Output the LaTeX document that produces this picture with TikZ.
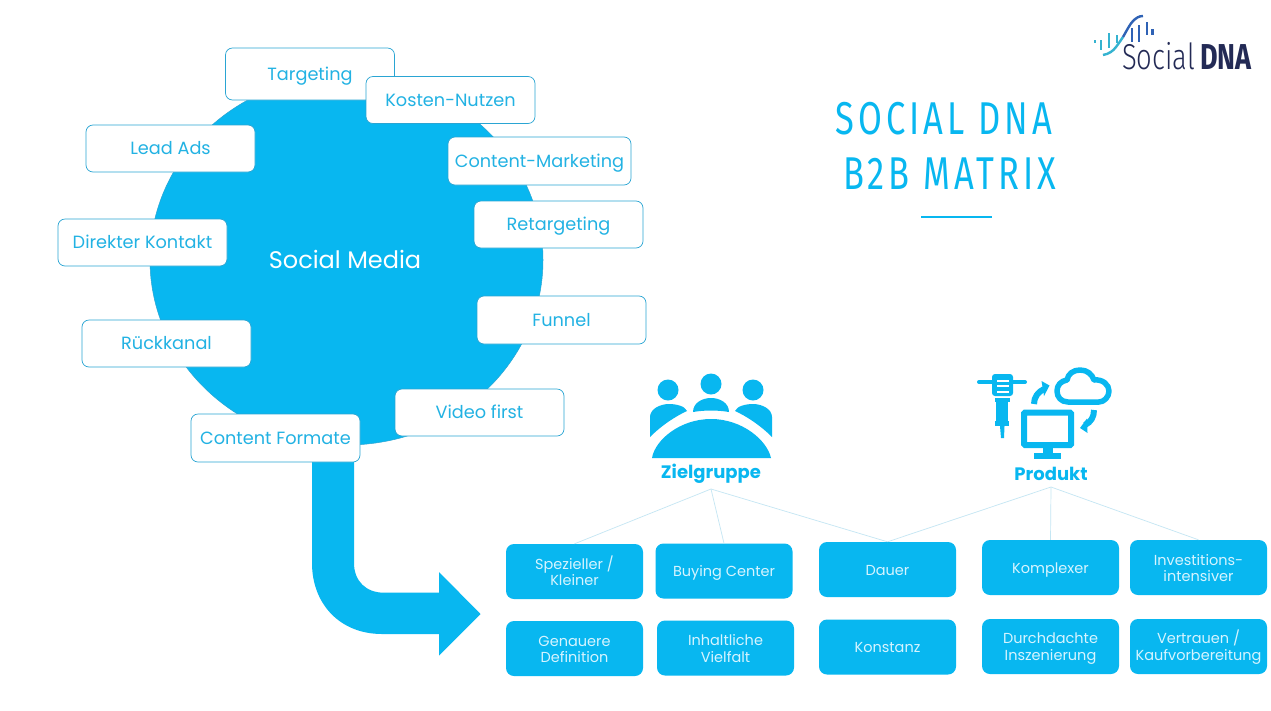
\documentclass[tikz,border=0pt]{standalone}
\usepackage{fontspec}
\usetikzlibrary{shapes.geometric}
\setmainfont{Poppins}
\newfontfamily\titlefont[FakeStretch=0.75,LetterSpace=9]{Fira Sans}
\newfontfamily\logolight[FakeStretch=0.76]{Fira Sans Light}
\newfontfamily\logobold[FakeStretch=0.75]{Fira Sans}
\newcommand\firstline{\vrule width 0pt height 1.05em depth 0pt\relax}
\definecolor{cyanmain}{HTML}{08B7F0}
\definecolor{cyantext}{HTML}{22B2E3}
\definecolor{cyanline}{HTML}{2AA5D3}
\definecolor{cyanlabel}{HTML}{D6F4FF}
\definecolor{connline}{HTML}{C4E6F3}
\definecolor{navy}{HTML}{232A55}
\definecolor{logoblue}{HTML}{2F62B5}
\definecolor{logoteal}{HTML}{35B3D0}
\tikzset{
  whitebox/.style={draw=cyanline,line width=0.7pt,fill=white,rounded corners=7pt,minimum width=169pt,minimum height=47pt,inner sep=0pt,text=cyantext,font=\fontsize{17.7}{20}\selectfont,align=center,text height=12.5pt,text depth=0pt},
  bluebox/.style={fill=cyanmain,rounded corners=8pt,minimum width=137pt,minimum height=55pt,inner sep=0pt,text=cyanlabel,font=\fontsize{14.5}{16.5}\selectfont,align=center,
    execute at end node={\vrule width 0pt height 0pt depth .25em}},
  connector/.style={draw=connline,line width=0.7pt},
  headlabel/.style={text=cyanmain,font=\fontsize{18}{20}\selectfont\bfseries,inner sep=0pt,text height=13pt,text depth=0pt},
  titlelabel/.style={text=cyanmain,font=\fontsize{46}{50}\titlefont,inner sep=0pt,anchor=west,text height=31.7pt,text depth=0pt},
  logolabel/.style={inner sep=0pt,text=navy,text height=24.8pt,text depth=0pt},
  icon/.style={fill=cyanmain,draw=none},
  iconline/.style={draw=cyanmain,line width=5.5pt},
}
\begin{document}
\begin{tikzpicture}[x=1pt,y=-1pt]
\useasboundingbox[fill=white] (0,0) rectangle (1271,710);
% big disc
\node[ellipse,fill=cyanmain,draw=cyanline,line width=0.5pt,minimum width=393pt,minimum height=370pt,inner sep=0pt] (disc) at (346.5,260) {};
\node[text=white,font=\fontsize{24}{28}\selectfont,inner sep=0pt] (sm) at (345,259) {Social Media};
% big arrow
\fill[cyanmain] (312,450) -- (354,450) -- (354,563) .. controls (354,581) and (366,592.7) .. (384,592.7) -- (439,592.7) -- (439,572) -- (480.5,614) -- (439,655.5) -- (439,634) -- (382,634) .. controls (340,634) and (312,604) .. (312,563) -- cycle;
% white boxes
\node[whitebox,minimum height=52pt] (targ) at (310,74) {Targeting};
\node[whitebox] (kost) at (450.5,100) {Kosten-Nutzen};
\node[whitebox] (lead) at (170.5,148.5) {Lead Ads};
\node[whitebox,minimum width=183pt,minimum height=48pt] (cmkt) at (539.5,161) {Content-Marketing};
\node[whitebox] (reta) at (558.5,224.5) {Retargeting};
\node[whitebox] (dire) at (142.5,242.5) {Direkter Kontakt};
\node[whitebox,minimum height=48pt] (funn) at (561.5,320) {Funnel};
\node[whitebox] (ruck) at (166.5,343.5) {Rückkanal};
\node[whitebox] (vide) at (479.5,412.5) {Video first};
\node[whitebox,minimum height=48pt] (cfor) at (275.5,438) {Content Formate};
% blue boxes
\node[bluebox] (spez) at (574.5,571.5) {\firstline Spezieller /\\Kleiner};
\node[bluebox] (buyc) at (724,571) {\firstline Buying Center};
\node[bluebox] (daue) at (887.5,569.5) {\firstline Dauer};
\node[bluebox] (komp) at (1050.5,567.5) {\firstline Komplexer};
\node[bluebox] (inve) at (1198.5,567.5) {\firstline Investitions-\\intensiver};
\node[bluebox] (gena) at (574.5,648.5) {\firstline Genauere\\Definition};
\node[bluebox] (inha) at (725.5,648) {\firstline Inhaltliche\\Vielfalt};
\node[bluebox] (kons) at (887.5,647) {\firstline Konstanz};
\node[bluebox] (durc) at (1050.5,646.5) {\firstline Durchdachte\\Inszenierung};
\node[bluebox] (vert) at (1198.5,646.5) {\firstline Vertrauen /\\Kaufvorbereitung};
% heads
\node[headlabel] (zg) at (711,471.5) {Zielgruppe};
\node[headlabel] (pr) at (1051,474) {Produkt};
\coordinate (zghub) at (711,489);
\coordinate (prhub) at (1051,487);
\draw[connector] (zghub) -- (spez.north);
\draw[connector] (zghub) -- (buyc.north);
\draw[connector] (zghub) -- (daue.north);
\draw[connector] (prhub) -- (daue.north);
\draw[connector] (prhub) -- (komp.north);
\draw[connector] (prhub) -- (inve.north);
% people icon
\fill[icon] (668,390) circle (10.5);
\fill[icon] (711,384) circle (10.5);
\fill[icon] (753,390) circle (10.5);
\fill[icon] (693,412) .. controls (693,403) and (702,398) .. (711,398) .. controls (720,398) and (729,403) .. (729,412) .. controls (717,410) and (705,410) .. (693,412) -- cycle;
\fill[icon] (650,437) -- (650,417) .. controls (650,409) and (660,404) .. (669,404) .. controls (676,404) and (685,406) .. (687,411) .. controls (676,416) and (662,425) .. (650,437) -- cycle;
\fill[icon] (772,437) -- (772,417) .. controls (772,409) and (762,404) .. (753,404) .. controls (746,404) and (737,406) .. (735,411) .. controls (746,416) and (760,425) .. (772,437) -- cycle;
\fill[icon] (652,458) .. controls (655,440) and (680,419) .. (711,419) .. controls (742,419) and (767,440) .. (771,458) -- cycle;
% jackhammer icon
\draw[draw=cyanmain,line width=4pt,line cap=round] (979,382) -- (1025,382);
\fill[icon,rounded corners=3pt] (992,374) rectangle (1013,396);
\fill[white] (997,379.5) rectangle (1009,381.5);
\fill[white] (997,385) rectangle (1009,387);
\fill[white] (997,390.5) rectangle (1009,392.5);
\fill[icon] (995,398) rectangle (1010,402);
\fill[icon] (996,402) rectangle (1007.5,422);
\fill[icon] (995,421) rectangle (1009,426);
\fill[icon] (1000,426) -- (1004.5,426) -- (1004,438) -- (1001,438) -- cycle;
% monitor icon
\draw[cyanmain,line width=6pt,rounded corners=1pt] (1024,412.5) rectangle (1071,445);
\fill[icon] (1043,447) rectangle (1053,454);
\fill[icon] (1034,453) rectangle (1061,459);
% cloud icon
\draw[iconline,line join=round] (1068,402) .. controls (1061,402) and (1057,397) .. (1057,391) .. controls (1057,385) and (1061,381) .. (1067,380) .. controls (1068,374) and (1073,370) .. (1080,370) .. controls (1087,370) and (1092,374) .. (1094,380) .. controls (1103,379) and (1109,385) .. (1109,391) .. controls (1109,397) and (1104,402) .. (1099,402) -- cycle;
% cycle arrows
\draw[cyanmain,line width=6pt] (1034,404) .. controls (1034,397) and (1038,392) .. (1044,389);
\fill[icon] (1041.5,381) -- (1049.5,385.5) -- (1044,396) -- cycle;
\draw[cyanmain,line width=6pt] (1094,410) .. controls (1094,417) and (1091,422) .. (1085,425);
\fill[icon] (1087,418.5) -- (1080,428) -- (1087.5,433) -- cycle;
% title
\node[titlelabel] (t1) at (835,119) {SOCIAL DNA};
\node[titlelabel] (t2) at (843,173.5) {B2B MATRIX};
\draw[draw=cyanmain,line width=2pt] (921,216.5) -- (992,216.5);
% logo
\node[logolabel,anchor=west,font=\fontsize{36}{38}\logolight] (lg1) at (1122,57.5) {Social};
\node[logolabel,anchor=east,font=\fontsize{36}{38}\logobold\bfseries] (lg2) at (1252,57.5) {DNA};
\draw[logoteal,line width=2pt] (1095,40) -- (1095,43);
\draw[logoteal,line width=2pt] (1100.7,40) -- (1100.7,50);
\draw[logoteal,line width=2.4pt] (1109,33) -- (1109,48);
\draw[logoteal,line width=2.4pt] (1116.7,35) -- (1116.7,43);
\draw[logoblue,line width=2.2pt] (1132,28) -- (1132,42);
\draw[logoblue,line width=2.2pt] (1139,25) -- (1139,42);
\draw[logoblue,line width=2.2pt] (1147,22) -- (1147,35);
\draw[logoblue,line width=2.2pt] (1152.5,29) -- (1152.5,35);
\draw[logoteal,line width=2.4pt] (1103,55) .. controls (1109,54) and (1113,51) .. (1116,47) .. controls (1119,43) and (1121,40) .. (1123,37);
\draw[logoblue,line width=2.4pt] (1123,37) .. controls (1127,30) and (1130,24) .. (1133,21) .. controls (1136,18) and (1139,16) .. (1143,16);
\end{tikzpicture}
\end{document}
